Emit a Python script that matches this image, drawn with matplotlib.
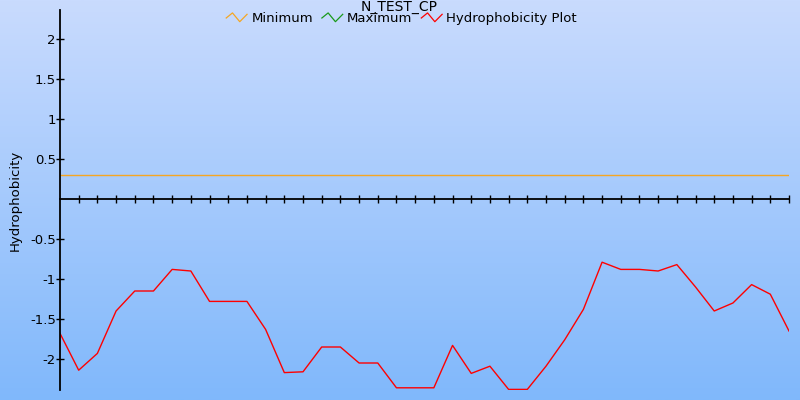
import numpy as np
import matplotlib
matplotlib.use("Agg")
import matplotlib.pyplot as plt
from matplotlib.lines import Line2D
from matplotlib.legend_handler import HandlerLine2D

title = "N_TEST_CP"
ylabel = "Hydrophobicity"

hydro = [-1.68, -2.14, -1.93, -1.40, -1.15, -1.15, -0.88, -0.90, -1.28, -1.28,
         -1.28, -1.63, -2.17, -2.16, -1.85, -1.85, -2.05, -2.05, -2.36, -2.36,
         -2.36, -1.83, -2.18, -2.09, -2.38, -2.38, -2.09, -1.76, -1.38, -0.79,
         -0.88, -0.88, -0.90, -0.82, -1.10, -1.40, -1.30, -1.07, -1.19, -1.65]
positions = list(range(len(hydro)))
minimum = 0.3
maximum = []  # not visible in the chart

yticks = [-2, -1.5, -1, -0.5, 0.5, 1, 1.5, 2]
yticklabels = ["-2", "-1.5", "-1", "-0.5", "0.5", "1", "1.5", "2"]


class ZigzagHandler(HandlerLine2D):
    def create_artists(self, legend, orig_handle, xdescent, ydescent,
                       width, height, fontsize, trans):
        w = 15
        x0 = -xdescent
        fr = [0.45, 1.0, 0.05, 0.85]
        xs = [x0, x0 + w * 0.3, x0 + w * 0.65, x0 + w]
        ys = [f * height - ydescent for f in fr]
        ln = Line2D(xs, ys, color=orig_handle.get_color(), lw=0.9)
        ln.set_transform(trans)
        return [ln]


fig = plt.figure(figsize=(8, 4), dpi=100)

# gradient background
bg = fig.add_axes([0, 0, 1, 1], zorder=-10)
top = np.array([201, 219, 254]) / 255
bot = np.array([128, 184, 251]) / 255
t = np.linspace(0, 1, 256)[:, None]
grad = top[None, :] * (1 - t) + bot[None, :] * t
bg.imshow(grad[:, None, :], aspect="auto", extent=[0, 1, 0, 1])
bg.axis("off")

ax = fig.add_axes([60 / 800, 10 / 400, 729 / 800, 380 / 400])
ax.patch.set_alpha(0)

ax.axhline(minimum, color="#f5a623", lw=1.0, label="Minimum")
ax.plot(positions[:len(maximum)], maximum, color="#1a9a1a", lw=0.9, label="Maximum")
ax.plot(positions, hydro, color="red", lw=1.0, label="Hydrophobicity Plot")

ax.set_xlim(0, 39)
ax.set_ylim(-2.3875, 2.3625)

for s in ["top", "right"]:
    ax.spines[s].set_visible(False)
ax.spines["bottom"].set_position(("data", 0))
ax.spines["left"].set_linewidth(1.3)
ax.spines["bottom"].set_linewidth(1.3)

ax.set_xticks(positions[1:])
ax.set_xticklabels([])
ax.tick_params(axis="x", direction="inout", length=6, width=1)
ax.set_yticks(yticks)
ax.set_yticklabels(yticklabels, fontsize=9.5)
ax.tick_params(axis="y", direction="inout", length=6, width=1, pad=0)

ax.set_ylabel(ylabel, fontsize=9.5)
ax.yaxis.set_label_coords(-0.052, 0.5)

fig.text(0.499, 1.0, title, ha="center", va="top", fontsize=10)

handles, labels = ax.get_legend_handles_labels()
fig.legend(handles, labels, loc="upper center", bbox_to_anchor=(0.502, 0.996),
           ncol=3, frameon=False, fontsize=9.5, handlelength=1.4,
           handletextpad=0.5, columnspacing=0.68, borderpad=0.3,
           handler_map={Line2D: ZigzagHandler()})

fig.savefig("out.png", dpi=100)
